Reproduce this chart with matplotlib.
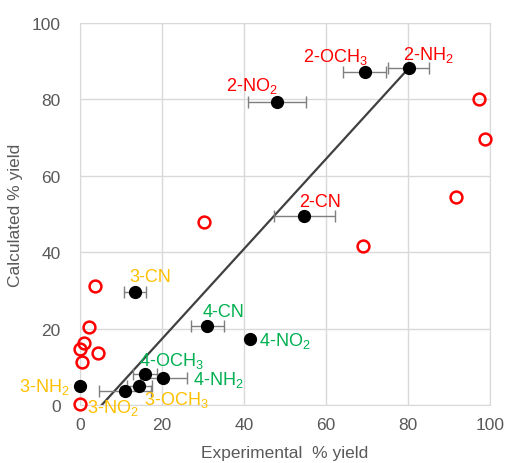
import matplotlib.pyplot as plt

plt.rcParams["font.family"] = ["Liberation Sans", "DejaVu Sans"]
plt.rcParams["mathtext.default"] = "regular"

RED = "#FF0000"
GOLD = "#FFC000"
GREEN = "#00B050"
GREY_TXT = "#595959"

# Substituted compounds with error bars (experimental vs calculated)
sub_names = ["2-NH$_2$", "2-OCH$_3$", "2-NO$_2$", "2-CN", "3-CN", "4-CN", "4-NO$_2$",
             "4-OCH$_3$", "4-NH$_2$", "3-OCH$_3$", "3-NO$_2$", "3-NH$_2$"]
sub_exp = [80.2, 69.4, 48.0, 54.7, 13.4, 31.0, 41.5, 15.9, 20.3, 14.5, 11.0, 0.0]
sub_calc = [88.2, 87.2, 79.3, 49.5, 29.7, 20.8, 17.3, 8.0, 7.1, 5.1, 3.7, 5.0]
sub_xerr = [5.0, 5.3, 7.0, 7.5, 2.7, 4.0, 0.0, 3.0, 5.7, 3.0, 6.4, 0.0]
sub_colors = [RED, RED, RED, RED, GOLD, GREEN, GREEN, GREEN, GREEN, GOLD, GOLD, GOLD]
# label anchor positions (data coords) and alignment
lab_x = [84.9, 62.2, 42.0, 58.5, 17.1, 35.0, 43.7, 22.3, 27.5, 15.7, 1.8, -2.5]
lab_y = [91.9, 91.4, 83.8, 53.2, 33.7, 24.4, 17.1, 11.8, 6.8, 1.6, -0.6, 5.0]
lab_ha = ["center", "center", "center", "center", "center", "center", "left",
          "center", "left", "left", "left", "right"]

# other compounds (open red circles)
oth_exp = [0.0, 0.6, 0.0, 1.0, 4.5, 2.3, 3.7, 30.2, 69.0, 91.7, 97.3, 98.8]
oth_calc = [0.3, 11.3, 14.7, 16.2, 13.5, 20.3, 31.2, 48.0, 41.6, 54.5, 80.1, 69.6]

# fitted trend line endpoints
fit_x = [5.3, 80.2]
fit_y = [0.0, 88.2]

fig = plt.figure(figsize=(5.08, 4.64), dpi=100)
ax = fig.add_axes([80 / 508, 58 / 464, 410 / 508, 382 / 464])

ax.plot(fit_x, fit_y, color="#404040", lw=1.6, zorder=2)
eb = ax.errorbar(sub_exp, sub_calc, xerr=sub_xerr, fmt="o", color="black",
                 ecolor="#7F7F7F", elinewidth=1.0, capsize=4.5, capthick=1.0,
                 markersize=8.5, zorder=3)
eb[0].set_clip_on(False)
ax.plot(oth_exp, oth_calc, "o", mfc="none", mec=RED, mew=1.8, markersize=8.5,
        zorder=3, clip_on=False)

for name, x, y, c, ha in zip(sub_names, lab_x, lab_y, sub_colors, lab_ha):
    ax.text(x, y, name, color=c, fontsize=13, ha=ha, va="center", zorder=4)

ax.set_xlim(0, 100)
ax.set_ylim(0, 100)
ax.set_xticks(range(0, 101, 20))
ax.set_yticks(range(0, 101, 20))
ax.grid(True, color="#D9D9D9", lw=1.0)
ax.set_axisbelow(True)
for s in ax.spines.values():
    s.set_color("#D9D9D9")
ax.tick_params(length=0, labelsize=12.5, labelcolor=GREY_TXT)
ax.tick_params(axis="y", pad=14)
ax.tick_params(axis="x", pad=9)
ax.set_xlabel("Experimental  % yield", fontsize=12.5, color=GREY_TXT, labelpad=9)
ax.set_ylabel("Calculated % yield", fontsize=12.5, color=GREY_TXT, labelpad=6)

fig.savefig("out.png", dpi=100)
